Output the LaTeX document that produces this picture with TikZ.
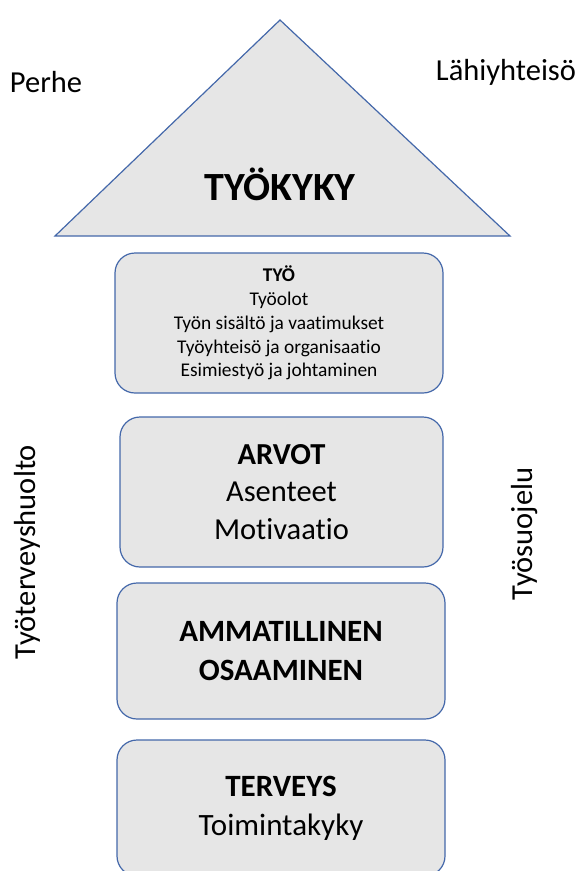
\documentclass[tikz,border=0pt]{standalone}
\usepackage{fontspec}
\setmainfont{Carlito}[Ligatures=NoCommon]
\definecolor{boxfill}{RGB}{230,230,230}
\definecolor{boxline}{RGB}{68,104,170}
\tikzset{
  part/.style={draw=boxline, fill=boxfill, line width=1.2pt, rounded corners=20pt,
    minimum width=328pt, align=center, inner sep=0pt},
  side/.style={inner sep=0pt, font=\fontsize{30.5}{36}\selectfont}
}
\begin{document}
\begin{tikzpicture}[x=1pt,y=-1pt]
  \useasboundingbox (0,0) rectangle (581,871);
  \clip (0,0) rectangle (581,871);
  % roof
  \coordinate (top) at (280,20);
  \coordinate (left) at (55,236);
  \coordinate (right) at (510,236);
  \draw[draw=boxline, fill=boxfill, line width=1.2pt] (top) -- (right) -- (left) -- cycle;
  \node[inner sep=0pt, font=\fontsize{40}{48}\selectfont\bfseries] (kyky) at (280,184) {TYÖKYKY};
  \node[side] (perhe) at (46,82) {Perhe};
  \node[side] (lahi) at (506,72) {Lähiyhteisö};
  % boxes
  \node[part, minimum height=140pt, font=\fontsize{19.4}{23.8}\selectfont] (tyo) at (279,323)
    {\textbf{TYÖ}\\Työolot\\Työn sisältö ja vaatimukset\\Työyhteisö ja organisaatio\\Esimiestyö ja johtaminen};
  \node[part, minimum width=323pt, minimum height=150pt, font=\fontsize{30.5}{37.5}\selectfont] (arvot) at (281.5,492)
    {\textbf{ARVOT}\\Asenteet\\Motivaatio};
  \node[part, minimum height=136pt, font=\fontsize{31}{39}\selectfont\bfseries] (osaaminen) at (281,651)
    {AMMATILLINEN\\OSAAMINEN};
  \node[part, minimum height=136pt, font=\fontsize{31}{39}\selectfont] (terveys) at (281,808)
    {\textbf{TERVEYS}\\Toimintakyky};
  % sides
  \node[side, rotate=90] (huolto) at (27,552) {Työterveyshuolto};
  \node[side, rotate=90] (suojelu) at (525,534) {Työsuojelu};
\end{tikzpicture}
\end{document}
